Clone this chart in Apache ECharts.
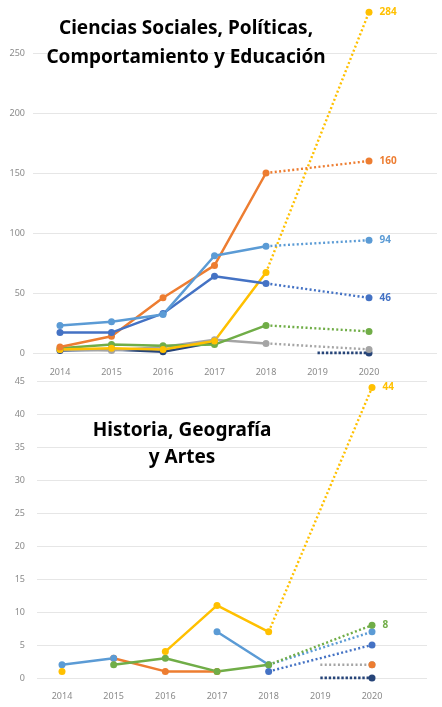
<!DOCTYPE html>
<html>
<head>
<meta charset="utf-8">
<script src="https://cdn.jsdelivr.net/npm/echarts@6/dist/echarts.min.js"></script>
<style>
html,body{margin:0;padding:0;background:#fff;}
#c{width:442px;height:707px;}
</style>
</head>
<body>
<div id="c"></div>
<script>
var years = ['2014','2015','2016','2017','2018','2019','2020'];

// Top: Ciencias Sociales, Políticas, Comportamiento y Educación
var topLightBlue = [23, 26, 32, 81, 89, null, 94];
var topOrange    = [5, 14, 46, 73, 150, null, 160];
var topDarkBlue  = [17, 17, 33, 64, 58, null, 46];
var topYellow    = [3, 4, 3, 10, 67, null, 284];
var topGreen     = [4, 7, 6, 7, 23, null, 18];
var topGray      = [3, 2, 5, 11, 8, null, 3];
var topNavy      = [2, 3, 1, 9, null, 0, 0];

// Bottom: Historia, Geografía y Artes
var botLightBlue = [2, 3, null, 7, 2, null, 7];
var botOrange    = [null, 3, 1, 1, null, null, 2];
var botDarkBlue  = [null, null, null, null, 1, null, 5];
var botYellow    = [1, null, 4, 11, 7, null, 44];
var botGreen     = [null, 2, 3, 1, 2, null, 8];
var botGray      = [null, null, null, null, null, 2, 2];
var botNavy      = [null, null, null, null, null, 0, 0];

var topTicks = [0, 50, 100, 150, 200, 250, 300];
var botTicks = [0, 5, 10, 15, 20, 25, 30, 35, 40, 45];

var C = {
  lightBlue: '#5B9BD5', orange: '#ED7D31', gray: '#A5A5A5', yellow: '#FFC000',
  darkBlue: '#4472C4', green: '#70AD47', navy: '#264478'
};

function makeSeries(values, color, axisIdx, showLabel, heavyDots) {
  var solid = values.map(function (v, i) { return i <= 4 ? v : null; });
  var start = values[5] != null ? 5 : (values[4] != null ? 4 : -1);
  var dotted = values.map(function () { return null; });
  if (start >= 0) dotted[start] = { value: values[start], symbol: 'none' };
  dotted[6] = values[6];
  var out = [];
  out.push({
    type: 'line', xAxisIndex: axisIdx, yAxisIndex: axisIdx, data: solid,
    symbol: 'circle', symbolSize: 7, connectNulls: false,
    lineStyle: { color: color, width: 2.5 }, itemStyle: { color: color },
    emphasis: { disabled: true }, animation: false
  });
  out.push({
    type: 'line', xAxisIndex: axisIdx, yAxisIndex: axisIdx, data: dotted,
    symbol: 'circle', symbolSize: 7, connectNulls: true,
    lineStyle: heavyDots
      ? { color: color, width: 3, type: [2.4, 1.8] }
      : { color: color, width: 2.4, type: [2, 2.4] },
    itemStyle: { color: color },
    label: showLabel ? {
      show: true, position: 'right', distance: 7, color: color,
      fontSize: 10, fontWeight: 'bold', fontFamily: 'Noto Sans',
      formatter: function (p) { return p.dataIndex === 6 ? String(p.value) : ''; }
    } : { show: false },
    emphasis: { disabled: true }, animation: false
  });
  return out;
}

var axisLabelStyle = { color: '#8a8a8a', fontSize: 9, fontFamily: 'Noto Sans' };

var option = {
  animation: false,
  grid: [
    { left: 60, right: 73, top: -7, bottom: 354, outerBoundsMode: 'none', containLabel: false },
    { left: 62, right: 70, top: 381, bottom: 29, outerBoundsMode: 'none', containLabel: false },
    { left: 33, right: 5, top: -7, bottom: 354, outerBoundsMode: 'none', containLabel: false },
    { left: 37, right: 15, top: 381, bottom: 29, outerBoundsMode: 'none', containLabel: false }
  ],
  xAxis: [
    { gridIndex: 0, type: 'category', data: years, boundaryGap: false,
      axisLine: { show: false }, axisTick: { show: false },
      axisLabel: Object.assign({ margin: 15 }, axisLabelStyle) },
    { gridIndex: 1, type: 'category', data: years, boundaryGap: false,
      axisLine: { show: false }, axisTick: { show: false },
      axisLabel: Object.assign({ margin: 14 }, axisLabelStyle) },
    { gridIndex: 2, type: 'value', show: false },
    { gridIndex: 3, type: 'value', show: false }
  ],
  yAxis: [
    { gridIndex: 0, type: 'value', min: topTicks[0], max: topTicks[topTicks.length - 1], show: false },
    { gridIndex: 1, type: 'value', min: botTicks[0], max: botTicks[botTicks.length - 1], show: false },
    { gridIndex: 2, type: 'value', min: topTicks[0], max: topTicks[topTicks.length - 1], interval: 50,
      axisLine: { show: false }, axisTick: { show: false },
      axisLabel: Object.assign({ margin: 8 }, axisLabelStyle),
      splitLine: { lineStyle: { color: '#e6e6e6', width: 1 } } },
    { gridIndex: 3, type: 'value', min: botTicks[0], max: botTicks[botTicks.length - 1], interval: 5,
      axisLine: { show: false }, axisTick: { show: false },
      axisLabel: Object.assign({ margin: 12 }, axisLabelStyle),
      splitLine: { lineStyle: { color: '#e6e6e6', width: 1 } } }
  ],
  graphic: [
    { type: 'text', z: 100,
      style: { text: 'Ciencias Sociales, Políticas,', fill: '#000', font: 'bold 19px "Noto Sans"', textAlign: 'center', textVerticalAlign: 'middle' },
      position: [186, 29] },
    { type: 'text', z: 100,
      style: { text: 'Comportamiento y Educación', fill: '#000', font: 'bold 19px "Noto Sans"', textAlign: 'center', textVerticalAlign: 'middle' },
      position: [186, 58] },
    { type: 'text', z: 100,
      style: { text: 'Historia, Geografía', fill: '#000', font: 'bold 19px "Noto Sans"', textAlign: 'center', textVerticalAlign: 'middle' },
      position: [182, 431] },
    { type: 'text', z: 100,
      style: { text: 'y Artes', fill: '#000', font: 'bold 19px "Noto Sans"', textAlign: 'center', textVerticalAlign: 'middle' },
      position: [182, 458] }
  ],
  series: [].concat(
    makeSeries(topNavy, C.navy, 0, false, true),
    makeSeries(topGray, C.gray, 0, false),
    makeSeries(topGreen, C.green, 0, false),
    makeSeries(topYellow, C.yellow, 0, true),
    makeSeries(topOrange, C.orange, 0, true),
    makeSeries(topDarkBlue, C.darkBlue, 0, true),
    makeSeries(topLightBlue, C.lightBlue, 0, true),
    makeSeries(botNavy, C.navy, 1, false, true),
    makeSeries(botGray, C.gray, 1, false),
    makeSeries(botOrange, C.orange, 1, false),
    makeSeries(botDarkBlue, C.darkBlue, 1, false),
    makeSeries(botLightBlue, C.lightBlue, 1, false),
    makeSeries(botGreen, C.green, 1, true),
    makeSeries(botYellow, C.yellow, 1, true)
  )
};

var chart = echarts.init(document.getElementById('c'), null, { renderer: 'canvas' });
chart.setOption(option);
</script>
</body>
</html>
